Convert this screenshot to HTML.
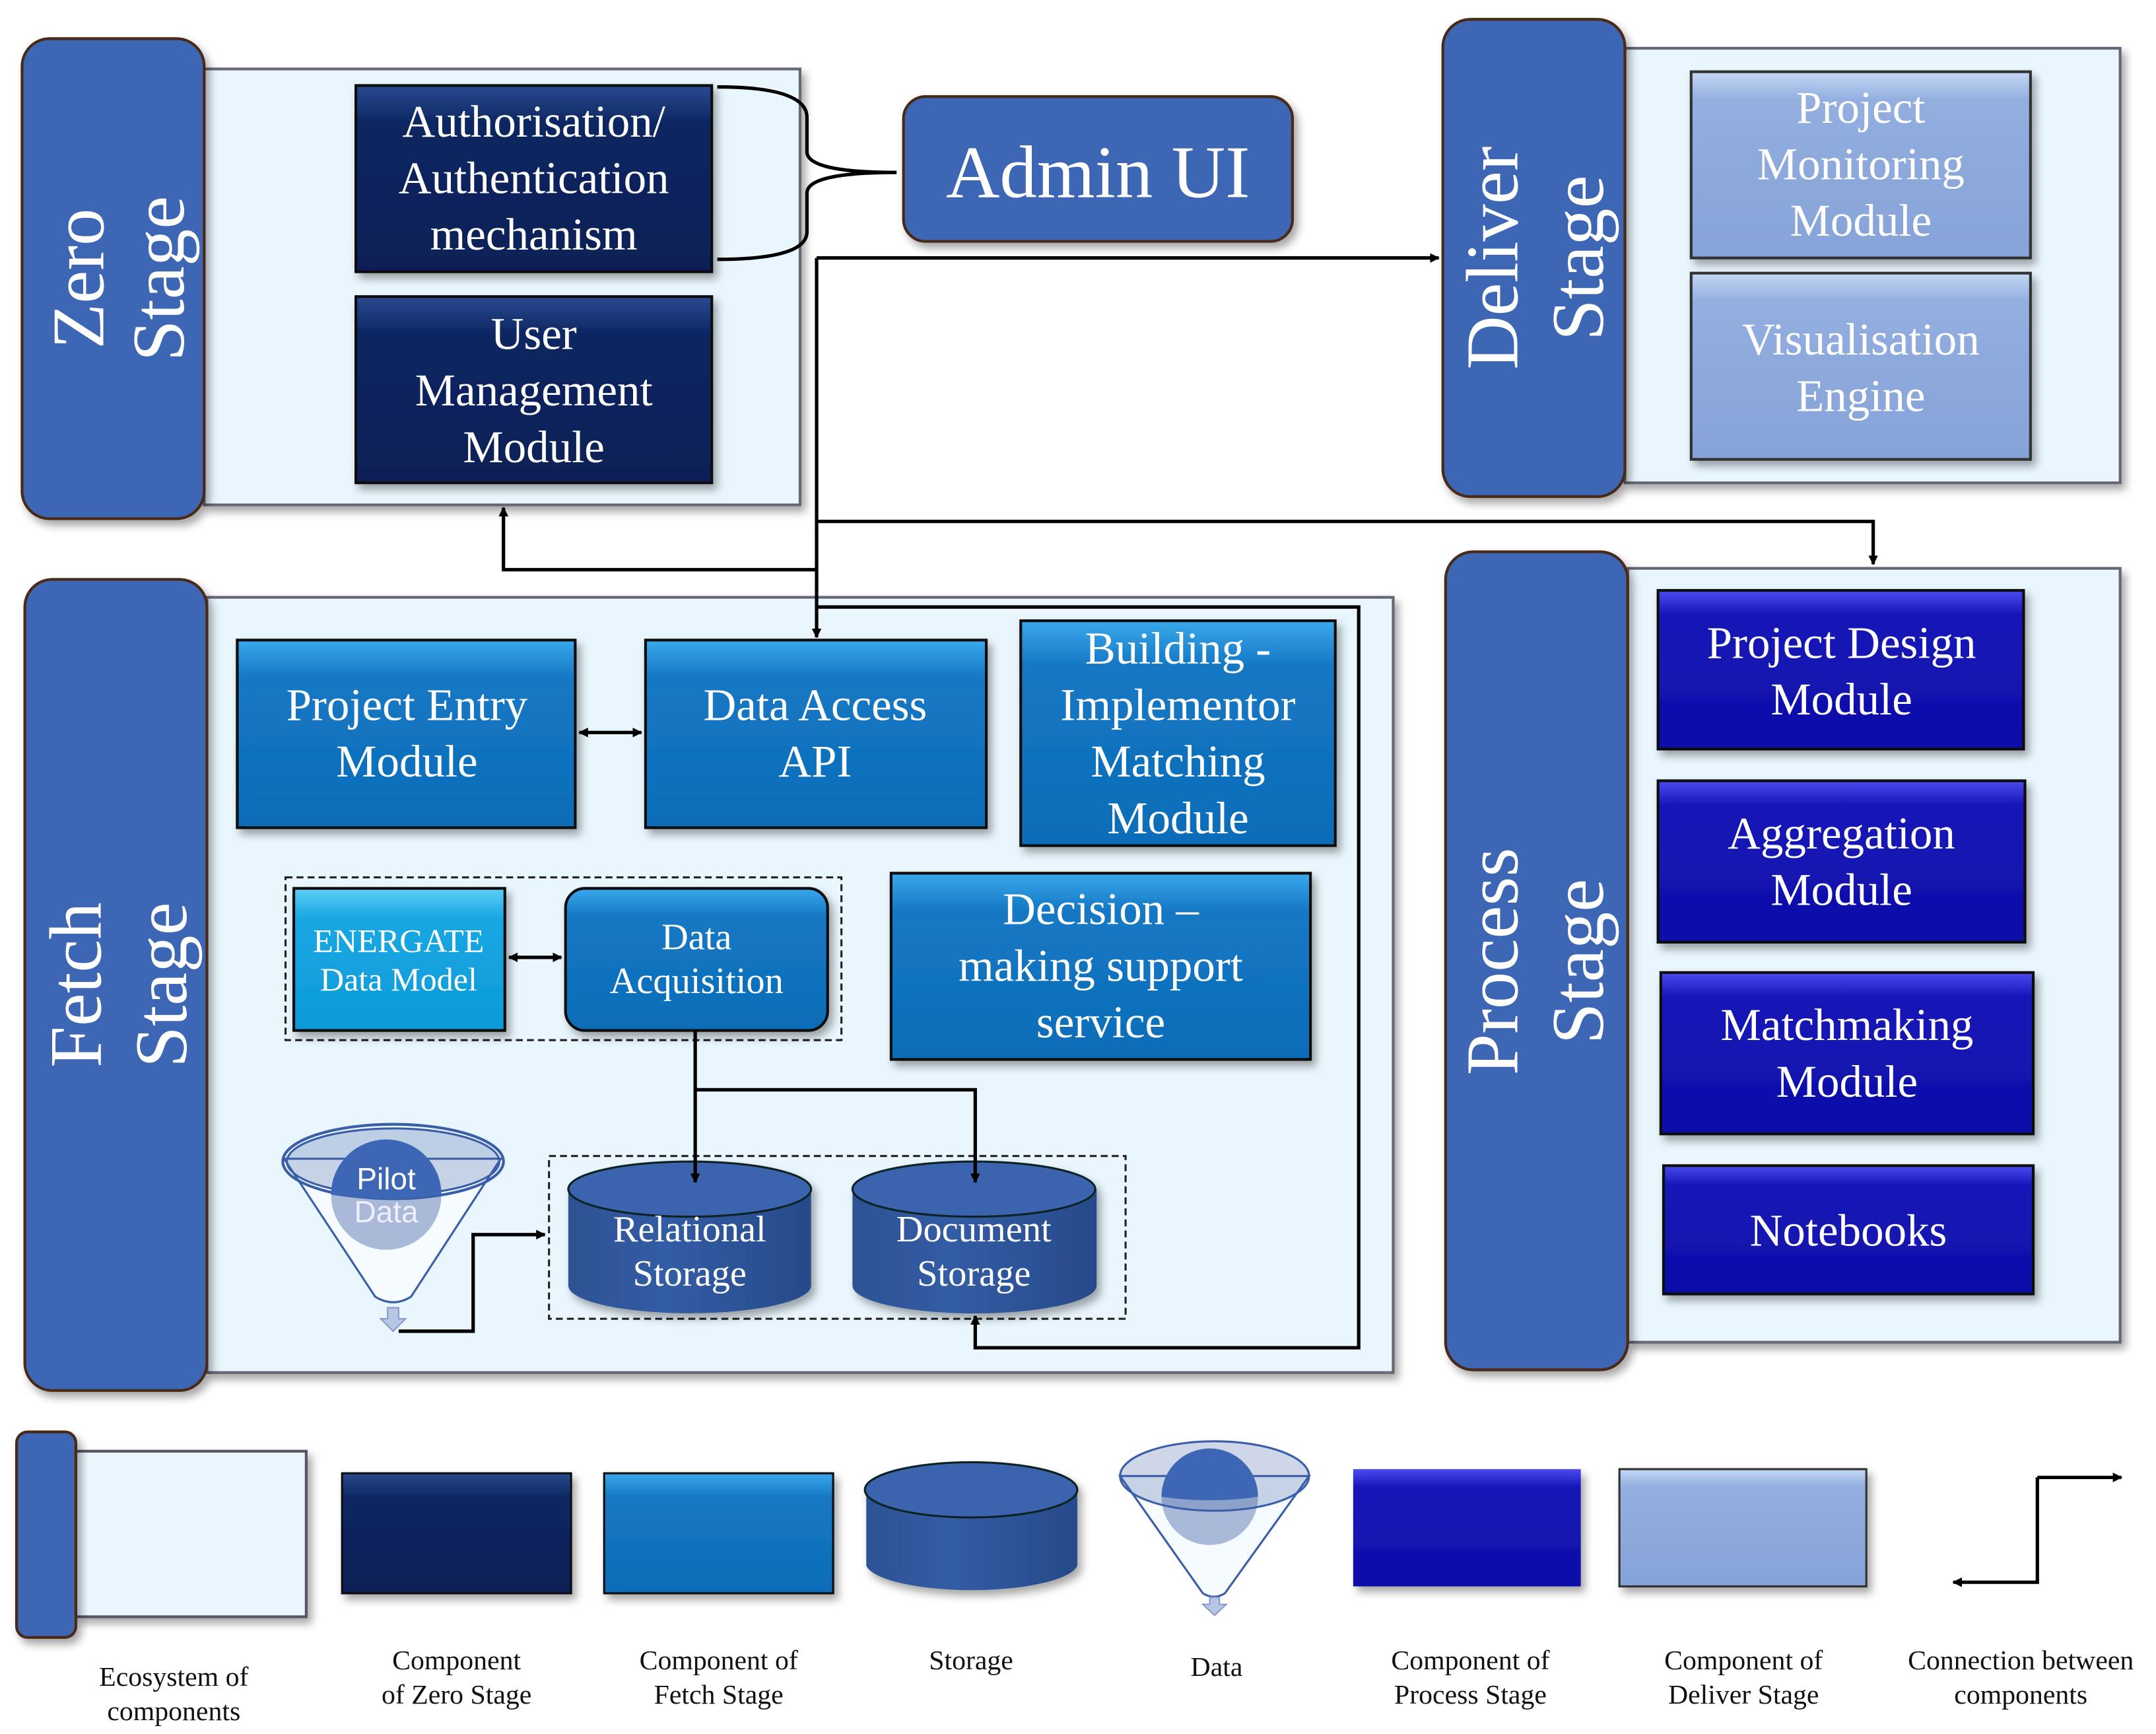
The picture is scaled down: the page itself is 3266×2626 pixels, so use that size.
<!DOCTYPE html>
<html><head><meta charset="utf-8">
<style>
html,body{margin:0;padding:0;background:#fff;}
svg{display:block;}
text{font-family:"Liberation Serif",serif;}
text.sans{font-family:"Liberation Sans",sans-serif;}
</style></head>
<body>
<svg width="3266" height="2626" viewBox="0 0 1563 1257" preserveAspectRatio="none" xmlns="http://www.w3.org/2000/svg">
<defs>
<marker id="ah" viewBox="0 0 10 10" refX="9" refY="5" markerWidth="7" markerHeight="7" orient="auto-start-reverse" markerUnits="userSpaceOnUse"><path d="M0,0 L10,5 L0,10 z" fill="#000"/></marker>
<linearGradient id="gz" x1="0" y1="0" x2="0" y2="1"><stop offset="0" stop-color="#2a4a90"/><stop offset="0.2" stop-color="#0c2762"/><stop offset="1" stop-color="#081f55"/></linearGradient>
<linearGradient id="gf" x1="0" y1="0" x2="0" y2="1"><stop offset="0" stop-color="#3aa8ec"/><stop offset="0.2" stop-color="#1478c4"/><stop offset="1" stop-color="#0e6cb8"/></linearGradient>
<linearGradient id="ge" x1="0" y1="0" x2="0" y2="1"><stop offset="0" stop-color="#5fd0f8"/><stop offset="0.2" stop-color="#1aa8e4"/><stop offset="1" stop-color="#0c9ad8"/></linearGradient>
<linearGradient id="gp" x1="0" y1="0" x2="0" y2="1"><stop offset="0" stop-color="#4a4af0"/><stop offset="0.15" stop-color="#1717b8"/><stop offset="1" stop-color="#0e0ea8"/></linearGradient>
<linearGradient id="gd" x1="0" y1="0" x2="0" y2="1"><stop offset="0" stop-color="#c4d8f4"/><stop offset="0.15" stop-color="#93aedf"/><stop offset="1" stop-color="#86a3d8"/></linearGradient>
<linearGradient id="gc" x1="0" y1="0" x2="1" y2="0"><stop offset="0" stop-color="#2d5294"/><stop offset="0.4" stop-color="#335ca4"/><stop offset="1" stop-color="#274a8a"/></linearGradient>
<filter id="sh" x="-10%" y="-10%" width="130%" height="130%"><feDropShadow dx="3" dy="4" stdDeviation="3" flood-color="#000" flood-opacity="0.35"/></filter>
</defs>

<rect x="148" y="50" width="432" height="316" fill="#e9f6fd" stroke="#667" stroke-width="2" filter="url(#sh)"/>
<rect x="16" y="28" width="132" height="348" rx="20" fill="#3d66b4" stroke="#4a2a18" stroke-width="2" filter="url(#sh)"/>
<text transform="translate(75,202) rotate(-90)" fill="#fff" font-size="54" text-anchor="middle">Zero</text>
<text transform="translate(133,202) rotate(-90)" fill="#fff" font-size="54" text-anchor="middle">Stage</text>
<rect x="258" y="62" width="258" height="135" fill="url(#gz)" stroke="#111" stroke-width="2" filter="url(#sh)"/>
<text x="387" y="99" fill="#fff" font-size="33" text-anchor="middle">Authorisation/</text>
<text x="387" y="140" fill="#fff" font-size="33" text-anchor="middle">Authentication</text>
<text x="387" y="181" fill="#fff" font-size="33" text-anchor="middle">mechanism</text>
<rect x="258" y="215" width="258" height="135" fill="url(#gz)" stroke="#111" stroke-width="2" filter="url(#sh)"/>
<text x="387" y="253" fill="#fff" font-size="33" text-anchor="middle">User</text>
<text x="387" y="294" fill="#fff" font-size="33" text-anchor="middle">Management</text>
<text x="387" y="335" fill="#fff" font-size="33" text-anchor="middle">Module</text>
<path d="M520,63 Q585,63 585,85 L585,110 Q585,125 650,125 Q585,125 585,140 L585,168 Q585,188 520,188" fill="none" stroke="#000" stroke-width="2.5"/>

<rect x="655" y="70" width="282" height="105" rx="16" fill="#3d66b4" stroke="#4a2a18" stroke-width="2" filter="url(#sh)"/>
<text x="796" y="143" fill="#fff" font-size="54" text-anchor="middle">Admin UI</text>

<rect x="1178" y="35" width="359" height="315" fill="#e9f6fd" stroke="#667" stroke-width="2" filter="url(#sh)"/>
<rect x="1046" y="14" width="132" height="346" rx="20" fill="#3d66b4" stroke="#4a2a18" stroke-width="2" filter="url(#sh)"/>
<text transform="translate(1100,187) rotate(-90)" fill="#fff" font-size="54" text-anchor="middle">Deliver</text>
<text transform="translate(1162,187) rotate(-90)" fill="#fff" font-size="54" text-anchor="middle">Stage</text>
<rect x="1226" y="52" width="246" height="135" fill="url(#gd)" stroke="#333" stroke-width="2" filter="url(#sh)"/>
<text x="1349" y="89" fill="#fff" font-size="33" text-anchor="middle">Project</text>
<text x="1349" y="130" fill="#fff" font-size="33" text-anchor="middle">Monitoring</text>
<text x="1349" y="171" fill="#fff" font-size="33" text-anchor="middle">Module</text>
<rect x="1226" y="198" width="246" height="135" fill="url(#gd)" stroke="#333" stroke-width="2" filter="url(#sh)"/>
<text x="1349" y="257" fill="#fff" font-size="33" text-anchor="middle">Visualisation</text>
<text x="1349" y="298" fill="#fff" font-size="33" text-anchor="middle">Engine</text>

<rect x="1180" y="412" width="357" height="561" fill="#e9f6fd" stroke="#667" stroke-width="2" filter="url(#sh)"/>
<rect x="1048" y="400" width="132" height="593" rx="20" fill="#3d66b4" stroke="#4a2a18" stroke-width="2" filter="url(#sh)"/>
<text transform="translate(1100,697) rotate(-90)" fill="#fff" font-size="54" text-anchor="middle">Process</text>
<text transform="translate(1162,697) rotate(-90)" fill="#fff" font-size="54" text-anchor="middle">Stage</text>
<rect x="1202" y="428" width="265" height="115" fill="url(#gp)" stroke="#111" stroke-width="2" filter="url(#sh)"/>
<text x="1335" y="477" fill="#fff" font-size="33" text-anchor="middle">Project Design</text>
<text x="1335" y="518" fill="#fff" font-size="33" text-anchor="middle">Module</text>
<rect x="1202" y="566" width="266" height="117" fill="url(#gp)" stroke="#111" stroke-width="2" filter="url(#sh)"/>
<text x="1335" y="615" fill="#fff" font-size="33" text-anchor="middle">Aggregation</text>
<text x="1335" y="656" fill="#fff" font-size="33" text-anchor="middle">Module</text>
<rect x="1204" y="705" width="270" height="117" fill="url(#gp)" stroke="#111" stroke-width="2" filter="url(#sh)"/>
<text x="1339" y="754" fill="#fff" font-size="33" text-anchor="middle">Matchmaking</text>
<text x="1339" y="795" fill="#fff" font-size="33" text-anchor="middle">Module</text>
<rect x="1206" y="845" width="268" height="93" fill="url(#gp)" stroke="#111" stroke-width="2" filter="url(#sh)"/>
<text x="1340" y="903" fill="#fff" font-size="33" text-anchor="middle">Notebooks</text>

<rect x="150" y="433" width="860" height="562" fill="#e9f6fd" stroke="#667" stroke-width="2" filter="url(#sh)"/>
<rect x="18" y="420" width="132" height="588" rx="20" fill="#3d66b4" stroke="#4a2a18" stroke-width="2" filter="url(#sh)"/>
<text transform="translate(73,714) rotate(-90)" fill="#fff" font-size="54" text-anchor="middle">Fetch</text>
<text transform="translate(135,714) rotate(-90)" fill="#fff" font-size="54" text-anchor="middle">Stage</text>

<rect x="172" y="464" width="245" height="136" fill="url(#gf)" stroke="#111" stroke-width="2" filter="url(#sh)"/>
<text x="295" y="522" fill="#fff" font-size="33" text-anchor="middle">Project Entry</text>
<text x="295" y="563" fill="#fff" font-size="33" text-anchor="middle">Module</text>
<rect x="468" y="464" width="247" height="136" fill="url(#gf)" stroke="#111" stroke-width="2" filter="url(#sh)"/>
<text x="591" y="522" fill="#fff" font-size="33" text-anchor="middle">Data Access</text>
<text x="591" y="563" fill="#fff" font-size="33" text-anchor="middle">API</text>
<rect x="740" y="450" width="228" height="163" fill="url(#gf)" stroke="#111" stroke-width="2" filter="url(#sh)"/>
<text x="854" y="481" fill="#fff" font-size="33" text-anchor="middle">Building -</text>
<text x="854" y="522" fill="#fff" font-size="33" text-anchor="middle">Implementor</text>
<text x="854" y="563" fill="#fff" font-size="33" text-anchor="middle">Matching</text>
<text x="854" y="604" fill="#fff" font-size="33" text-anchor="middle">Module</text>
<rect x="646" y="633" width="304" height="135" fill="url(#gf)" stroke="#111" stroke-width="2" filter="url(#sh)"/>
<text x="798" y="670" fill="#fff" font-size="33" text-anchor="middle">Decision –</text>
<text x="798" y="711" fill="#fff" font-size="33" text-anchor="middle">making support</text>
<text x="798" y="752" fill="#fff" font-size="33" text-anchor="middle">service</text>

<rect x="207" y="636" width="403" height="118" fill="none" stroke="#222" stroke-width="1.5" stroke-dasharray="5,3"/>
<rect x="213" y="644" width="153" height="103" fill="url(#ge)" stroke="#111" stroke-width="2" filter="url(#sh)"/>
<text x="289" y="690" fill="#fff" font-size="24" text-anchor="middle">ENERGATE</text>
<text x="289" y="718" fill="#fff" font-size="24" text-anchor="middle">Data Model</text>
<rect x="410" y="644" width="190" height="103" rx="14" fill="url(#gf)" stroke="#111" stroke-width="2" filter="url(#sh)"/>
<text x="505" y="688" fill="#fff" font-size="27" text-anchor="middle">Data</text>
<text x="505" y="720" fill="#fff" font-size="27" text-anchor="middle">Acquisition</text>

<rect x="398" y="838" width="418" height="118" fill="none" stroke="#222" stroke-width="1.5" stroke-dasharray="5,3"/>
<g filter="url(#sh)">
<path d="M412,862 L412,932 A88,20 0 0 0 588,932 L588,862 Z" fill="url(#gc)"/>
<ellipse cx="500" cy="862" rx="88" ry="20" fill="#3a64ae" stroke="#122" stroke-width="1.5"/>
<path d="M618,862 L618,932 A88,20 0 0 0 795,932 L795,862 Z" fill="url(#gc)"/>
<ellipse cx="706" cy="862" rx="88" ry="20" fill="#3a64ae" stroke="#122" stroke-width="1.5"/>
</g>
<text x="500" y="900" fill="#fff" font-size="27" text-anchor="middle">Relational</text>
<text x="500" y="932" fill="#fff" font-size="27" text-anchor="middle">Storage</text>
<text x="706" y="900" fill="#fff" font-size="27" text-anchor="middle">Document</text>
<text x="706" y="932" fill="#fff" font-size="27" text-anchor="middle">Storage</text>

<path d="M206,840 L272,940 Q285,948 298,940 L363,840 Z" fill="#f5fbff" stroke="#3a5ea8" stroke-width="1.5"/>
<circle cx="280" cy="866" r="40" fill="#a9bad8"/>
<ellipse cx="285" cy="842" rx="80" ry="27" fill="none" stroke="#3a5ea8" stroke-width="2"/>
<path d="M208,842 A77,24 0 0 1 362,842 A77,24 0 0 1 208,842" fill="rgba(60,90,160,0.25)" stroke="#3a5ea8" stroke-width="1.5"/>
<path d="M240,866 A40,40 0 0 1 320,866 A77,22 0 0 1 240,866" fill="#3d66b4"/>
<text class="sans" x="280" y="862" fill="#fff" font-size="22" text-anchor="middle">Pilot</text>
<text class="sans" x="280" y="886" fill="#eef" font-size="22" text-anchor="middle">Data</text>
<path d="M281,948 L289,948 L289,956 L294,956 L285,965 L276,956 L281,956 Z" fill="#b8c6e6" stroke="#8899cc"/>

<g fill="none" stroke="#000" stroke-width="2.5">
<path d="M592,187 L1043,187" marker-end="url(#ah)"/>
<path d="M592,187 L592,462" marker-end="url(#ah)"/>
<path d="M592,378 L1358,378 L1358,409" marker-end="url(#ah)"/>
<path d="M592,413 L365,413 L365,368" marker-end="url(#ah)"/>
<path d="M592,440 L985,440 L985,977 L707,977 L707,954" marker-end="url(#ah)"/>
<path d="M420,531 L465,531" marker-start="url(#ah)" marker-end="url(#ah)"/>
<path d="M369,694 L407,694" marker-start="url(#ah)" marker-end="url(#ah)"/>
<path d="M504,747 L504,857" marker-end="url(#ah)"/>
<path d="M504,790 L707,790 L707,857" marker-end="url(#ah)"/>
<path d="M289,965 L343,965 L343,895 L395,895" marker-end="url(#ah)"/>
</g>

<rect x="55" y="1052" width="167" height="120" fill="#e9f6fd" stroke="#556" stroke-width="2" filter="url(#sh)"/>
<rect x="12" y="1038" width="43" height="149" rx="8" fill="#3d66b4" stroke="#4a2a18" stroke-width="2" filter="url(#sh)"/>
<rect x="248" y="1068" width="166" height="87" fill="url(#gz)" stroke="#111" stroke-width="1.5" filter="url(#sh)"/>
<rect x="438" y="1068" width="166" height="87" fill="url(#gf)" stroke="#111" stroke-width="1.5" filter="url(#sh)"/>
<g filter="url(#sh)">
<path d="M628,1080 L628,1135 A77,20 0 0 0 781,1135 L781,1080 Z" fill="url(#gc)"/>
<ellipse cx="704" cy="1080" rx="77" ry="20" fill="#3a64ae" stroke="#122" stroke-width="1.5"/>
</g>
<path d="M812,1070 L872,1155 Q880,1160 888,1155 L949,1070 Z" fill="#f5fbff" stroke="#3a5ea8" stroke-width="1.5"/>
<circle cx="877" cy="1085" r="35" fill="#a9bad8"/>
<path d="M812,1070 A68,25 0 0 1 949,1070 A68,25 0 0 1 812,1070" fill="rgba(60,90,160,0.25)" stroke="#3a5ea8" stroke-width="1.5"/>
<path d="M842,1085 A35,35 0 0 1 912,1085 A68,18 0 0 1 842,1085" fill="#3d66b4"/>
<path d="M877,1158 L884,1158 L884,1163 L889,1163 L880.5,1171 L872,1163 L877,1163 Z" fill="#b8c6e6" stroke="#8899cc"/>
<rect x="981" y="1065" width="165" height="85" fill="url(#gp)" filter="url(#sh)"/>
<rect x="1174" y="1065" width="179" height="85" fill="url(#gd)" stroke="#333" stroke-width="1.5" filter="url(#sh)"/>
<g fill="none" stroke="#000" stroke-width="2.5">
<path d="M1477,1071 L1538,1071" marker-end="url(#ah)"/>
<path d="M1477,1071 L1477,1147 L1416,1147" marker-end="url(#ah)"/>
</g>

<g fill="#111" font-size="20" text-anchor="middle">
<text x="126" y="1222">Ecosystem of</text>
<text x="126" y="1247">components</text>
<text x="331" y="1210">Component</text>
<text x="331" y="1235">of Zero Stage</text>
<text x="521" y="1210">Component of</text>
<text x="521" y="1235">Fetch Stage</text>
<text x="704" y="1210">Storage</text>
<text x="882" y="1215">Data</text>
<text x="1066" y="1210">Component of</text>
<text x="1066" y="1235">Process Stage</text>
<text x="1264" y="1210">Component of</text>
<text x="1264" y="1235">Deliver Stage</text>
<text x="1465" y="1210">Connection between</text>
<text x="1465" y="1235">components</text>
</g>
</svg>
</body></html>
